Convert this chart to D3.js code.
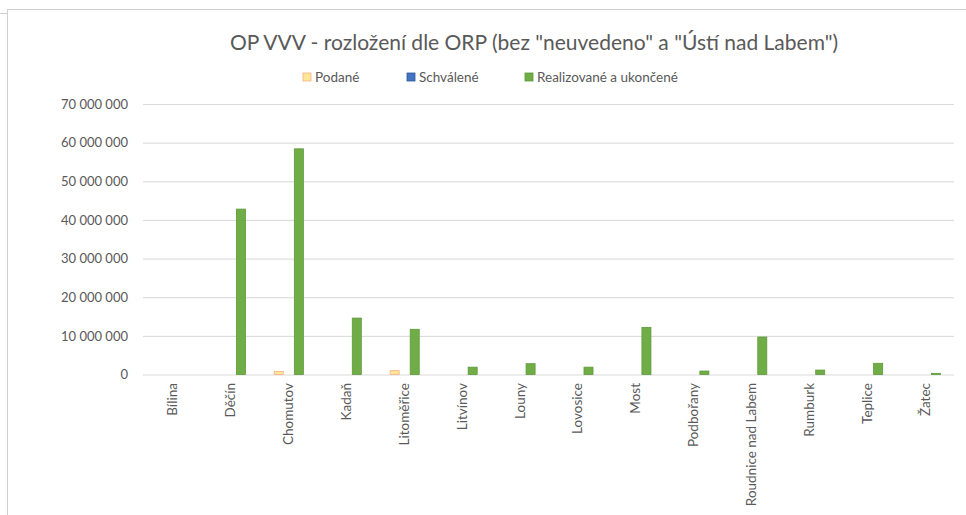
<!DOCTYPE html>
<html>
<head>
<meta charset="utf-8">
<script src="https://cdnjs.cloudflare.com/ajax/libs/d3/7.8.5/d3.min.js"></script>
<style>
    body { margin: 0; background: #ffffff; }
    #space { width: 966px; height: 515px; }
</style>
</head>
<body>
<div id="space"></div>
<script>

var categories = ["Bílina", "Děčín", "Chomutov", "Kadaň", "Litoměřice", "Litvínov", "Louny",
    "Lovosice", "Most", "Podbořany", "Roudnice nad Labem", "Rumburk", "Teplice", "Žatec"];
var seriesNames = ["Podané", "Schválené", "Realizované a ukončené"];
var podane = [0, 0, 800000, 0, 1000000, 0, 0, 0, 0, 0, 0, 0, 0, 0];
var schvalene = [0, 0, 0, 0, 0, 0, 0, 0, 0, 0, 0, 0, 0, 0];
var realizovane = [0, 42800000, 58400000, 14600000, 11700000, 1900000, 2800000,
    1900000, 12200000, 900000, 9700000, 1150000, 2900000, 300000];
var yTicks = [0, 10000000, 20000000, 30000000, 40000000, 50000000, 60000000, 70000000];
var titleText = "OP VVV - rozložení dle ORP (bez \"neuvedeno\" a \"Ústí nad Labem\")";

var svg, x0, x1, y;
var fills = ["#ffe699", "#4472c4", "#70ad47"];
var strokes = ["#f4b183", "#2f5597", "#5e9a3a"];
var font = "Lato, 'Open Sans', sans-serif";

init();

function init()
{
    initSvg();
    drawFrame();
    initScales();
    drawGrid();
    drawBars();
    drawCategoryLabels();
    drawTitle();
    drawLegend();
}

function initSvg() {
    svg = d3.select("#space").append("svg")
        .attr("xmlns", "http://www.w3.org/2000/svg")
        .attr("width", 966)
        .attr("height", 515);

    //Reorder elements
    svg.append("g").attr("id", "frame");
    svg.append("g").attr("id", "grid");
    svg.append("g").attr("id", "rect");
    svg.append("g").attr("id", "text");
}

function drawFrame() {
    var g = svg.select("#frame");
    g.append("line").attr("x1", 0).attr("x2", 7).attr("y1", 13.5).attr("y2", 13.5)
        .attr("stroke", "#d0d0d0");
    g.append("line").attr("x1", 7.5).attr("x2", 7.5).attr("y1", 10).attr("y2", 515)
        .attr("stroke", "#d0d0d0");
    g.append("line").attr("x1", 7).attr("x2", 966).attr("y1", 9.5).attr("y2", 9.5)
        .attr("stroke", "#d0d0d0");
}

function initScales() {
    x0 = d3.scaleBand()
        .domain(categories)
        .range([144, 955])
        .paddingInner(0.48)
        .paddingOuter(0.24);

    x1 = d3.scaleBand()
        .domain(seriesNames)
        .range([0, x0.bandwidth()]);

    y = d3.scaleLinear()
        .domain([0, 70000000])
        .range([374.5, 104]);
}

function drawGrid() {
    var locale = d3.formatLocale({ decimal: ",", thousands: "\u00a0", grouping: [3], currency: ["", ""] });
    var fmt = locale.format(",d");

    var axis = d3.axisLeft(y)
        .tickValues(yTicks)
        .tickSize(-(954 - 143))
        .tickPadding(15)
        .tickFormat(fmt);

    var g = svg.select("#grid").append("g")
        .attr("transform", "translate(143,0)")
        .call(axis);

    g.select(".domain").remove();
    g.selectAll(".tick line")
        .attr("stroke", "#d9d9d9")
        .attr("stroke-width", 1);
    g.selectAll(".tick text")
        .attr("fill", "#595959")
        .attr("font-family", font)
        .attr("font-size", "13px");
}

function drawBars() {
    var table = [podane, schvalene, realizovane];
    var g = svg.select("#rect");

    for (var s = 0; s < seriesNames.length; s++) {
        var vals = table[s];
        for (var i = 0; i < categories.length; i++) {
            if (vals[i] <= 0) continue;
            g.append("rect")
                .attr("x", x0(categories[i]) + x1(seriesNames[s]) + 0.5)
                .attr("y", y(vals[i]))
                .attr("width", x1.bandwidth() - 1)
                .attr("height", y(0) - y(vals[i]))
                .attr("fill", fills[s])
                .attr("stroke", strokes[s])
                .attr("stroke-width", 0.8);
        }
    }
}

function drawCategoryLabels() {
    var g = svg.select("#text");
    for (var i = 0; i < categories.length; i++) {
        var cx = x0(categories[i]) + x0.bandwidth() / 2 + 4;
        g.append("text")
            .attr("transform", "translate(" + cx + ",383) rotate(-90)")
            .attr("text-anchor", "end")
            .attr("font-family", font)
            .attr("font-size", "13.5px")
            .attr("fill", "#595959")
            .text(categories[i]);
    }
}

function drawTitle() {
    svg.select("#text").append("text")
        .attr("x", 534)
        .attr("y", 50)
        .attr("text-anchor", "middle")
        .attr("font-family", font)
        .attr("font-size", "21px")
        .attr("fill", "#595959")
        .text(titleText);
}

function drawLegend() {
    var pos = [303, 407, 525];
    var g = svg.select("#text");
    for (var i = 0; i < seriesNames.length; i++) {
        g.append("rect")
            .attr("x", pos[i])
            .attr("y", 73)
            .attr("width", 8)
            .attr("height", 8)
            .attr("fill", fills[i])
            .attr("stroke", strokes[i])
            .attr("stroke-width", 0.8);
        g.append("text")
            .attr("x", pos[i] + 12)
            .attr("y", 81.5)
            .attr("font-family", font)
            .attr("font-size", "13.5px")
            .attr("fill", "#595959")
            .text(seriesNames[i]);
    }
}

</script>
</body>
</html>
